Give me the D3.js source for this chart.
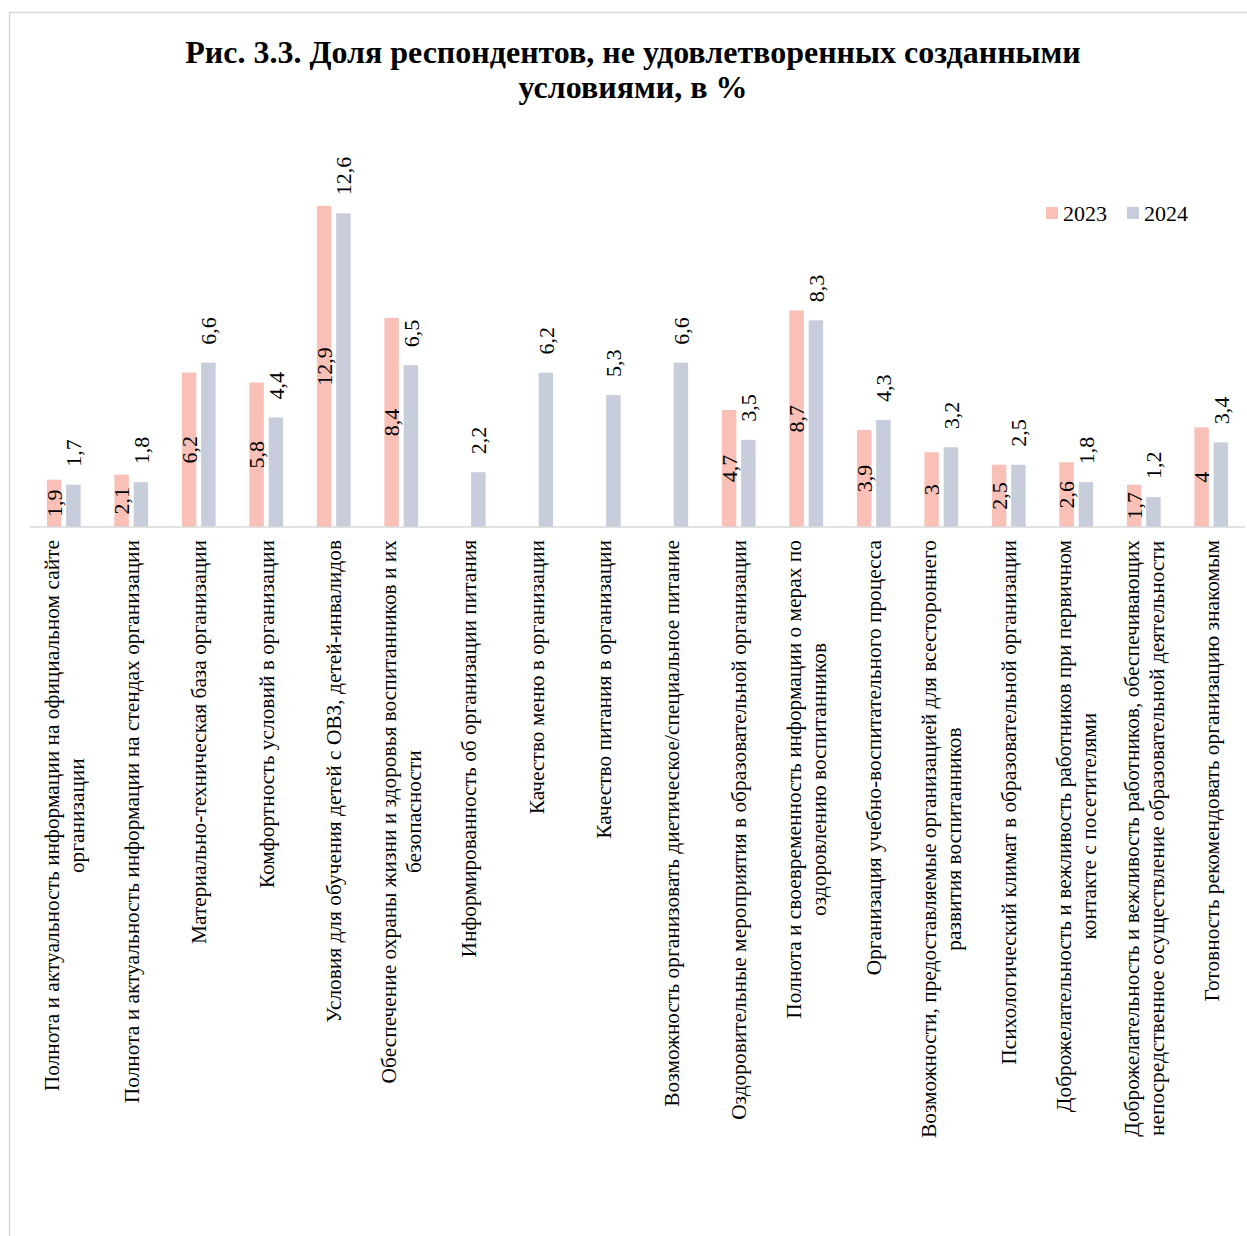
<!DOCTYPE html>
<html>
<head>
<meta charset="UTF-8">
<script src="https://cdn.jsdelivr.net/npm/d3@7/dist/d3.min.js"></script>
<style>
body{
    margin:0;
    background:#fff;
}
svg text{
    font-family: "Liberation Serif", "Times New Roman", serif;
}
</style>
</head>
<body>
<script>
// data
var categories = [
    "Полнота и актуальность информации на официальном сайте\nорганизации",
    "Полнота и актуальность информации на стендах организации",
    "Материально-техническая база организации",
    "Комфортность условий в организации",
    "Условия для обучения детей с ОВЗ, детей-инвалидов",
    "Обеспечение охраны жизни и здоровья воспитанников и их\nбезопасности",
    "Информированность об организации питания",
    "Качество меню в организации",
    "Качество питания в организации",
    "Возможность организовать диетическое/специальное питание",
    "Оздоровительные мероприятия в образовательной организации",
    "Полнота и своевременность информации о мерах по\nоздоровлению воспитанников",
    "Организация учебно-воспитательного процесса",
    "Возможности, предоставляемые организацией для всестороннего\nразвития воспитанников",
    "Психологический климат в образовательной организации",
    "Доброжелательность и вежливость работников при первичном\nконтакте с посетителями",
    "Доброжелательность и вежливость работников, обеспечивающих\nнепосредственное осуществление образовательной деятельности",
    "Готовность рекомендовать организацию знакомым"
]
var series = ["2023", "2024"]
var values2023 = [1.9, 2.1, 6.2, 5.8, 12.9, 8.4, null, null, null, null, 4.7, 8.7, 3.9, 3, 2.5, 2.6, 1.7, 4]
var values2024 = [1.7, 1.8, 6.6, 4.4, 12.6, 6.5, 2.2, 6.2, 5.3, 6.6, 3.5, 8.3, 4.3, 3.2, 2.5, 1.8, 1.2, 3.4]
var colors = {"2023": "#f9c0b8", "2024": "#c8cddc"}

var width = 1247
var height = 1236
var serif = "'Liberation Serif', 'Times New Roman', serif"

var svg = d3.select('body')
    .append('svg')
    .attr('width', width)
    .attr('height', height)
    .attr('font-family', serif)

// chart frame
svg.append("rect")
    .attr("x", 9.5)
    .attr("y", 12.5)
    .attr("width", 1300)
    .attr("height", 1300)
    .attr("fill", "none")
    .attr("stroke", "#d9d9d9")
    .attr("stroke-width", 1.5)

// title
var title = svg.append("text")
    .attr("text-anchor", "middle")
    .attr("font-size", 32)
    .attr("font-weight", "bold")
    .attr("fill", "#000")
title.append("tspan").attr("x", 633).attr("y", 63)
    .text("Рис. 3.3. Доля респондентов, не удовлетворенных созданными")
title.append("tspan").attr("x", 633).attr("y", 98)
    .text("условиями, в %")

var baseY = 527

var x0 = d3.scaleBand()
    .domain(d3.range(categories.length))
    .range([30, 1245])
    .paddingInner(0.5)
    .paddingOuter(0.25)

var x1 = d3.scaleBand()
    .domain(series)
    .range([0, x0.bandwidth()])
    .paddingInner(0.25)

var y = d3.scaleLinear()
    .domain([0, 14])
    .range([baseY, baseY - 14 * 24.9])

var rows = categories.map(function(c, i){
    return {i: i, vals: [
        {s: "2023", v: values2023[i]},
        {s: "2024", v: values2024[i]}
    ]}
})

var groups = svg.selectAll(".grp")
    .data(rows)
    .enter().append("g")
    .attr("class", "grp")
    .attr("transform", function(d){ return "translate(" + x0(d.i) + ",0)" })

groups.selectAll("rect")
    .data(function(d){ return d.vals.filter(function(e){ return e.v != null }) })
    .enter().append("rect")
    .attr("x", function(d){ return x1(d.s) })
    .attr("y", function(d){ return y(d.v) })
    .attr("width", x1.bandwidth())
    .attr("height", function(d){ return baseY - y(d.v) })
    .attr("fill", function(d){ return colors[d.s] })

function fmt(v){ return String(v).replace(".", ",") }

// value labels: 2023 centred inside, 2024 above the bar
groups.selectAll(".val")
    .data(function(d){ return d.vals.filter(function(e){ return e.v != null }) })
    .enter().append("text")
    .attr("class", "val")
    .attr("font-size", 22)
    .attr("fill", "#000")
    .attr("dy", "0.35em")
    .attr("text-anchor", function(d){ return d.s == "2023" ? "middle" : "start" })
    .attr("transform", function(d){
        var cx = x1(d.s) + x1.bandwidth() / 2
        var cy = d.s == "2023" ? (y(d.v) + baseY) / 2 : y(d.v) - 18
        return "translate(" + cx + "," + cy + ") rotate(-90)"
    })
    .text(function(d){ return fmt(d.v) })

// axis line
svg.append("line")
    .attr("x1", 30)
    .attr("x2", 1245)
    .attr("y1", baseY)
    .attr("y2", baseY)
    .attr("stroke", "#d9d9d9")
    .attr("stroke-width", 1.5)

// category labels, rotated, top aligned under the axis
var lineH = 25
var labelTop = 540
categories.forEach(function(c, i){
    var lines = c.split("\n")
    var cx = x0(i) + x0.bandwidth() / 2
    var g = svg.append("g")
    var texts = lines.map(function(l, k){
        return g.append("text")
            .attr("font-size", 21.4)
            .attr("fill", "#000")
            .attr("text-anchor", "middle")
            .attr("dy", "0.35em")
            .text(l)
    })
    var maxLen = d3.max(texts, function(t){ return t.node().getComputedTextLength() })
    texts.forEach(function(t, k){
        var off = (k - (lines.length - 1) / 2) * lineH
        t.attr("transform", "translate(" + (cx + off) + "," + (labelTop + maxLen / 2) + ") rotate(-90)")
    })
})

// legend
var legend = svg.append("g")
var legX = [1046, 1127]
series.forEach(function(s, k){
    legend.append("rect")
        .attr("x", legX[k])
        .attr("y", 207)
        .attr("width", 12)
        .attr("height", 12)
        .attr("fill", colors[s])
    legend.append("text")
        .attr("x", legX[k] + 17)
        .attr("y", 221)
        .attr("font-size", 22)
        .attr("fill", "#000")
        .text(s)
})
</script>
</body>
</html>
